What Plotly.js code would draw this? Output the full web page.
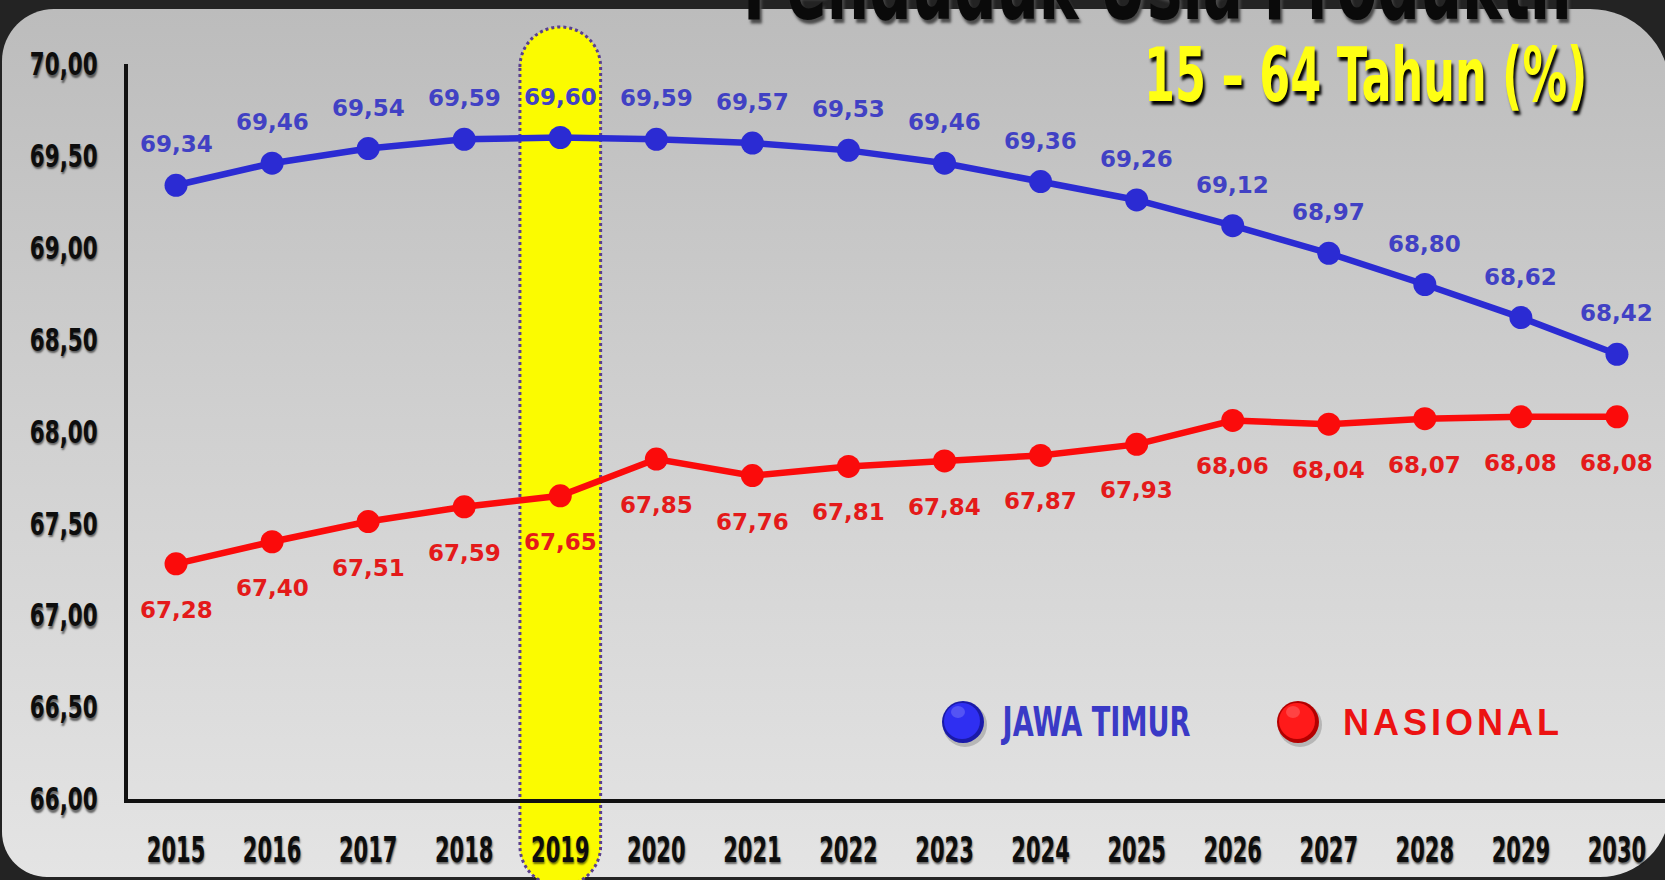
<!DOCTYPE html>
<html>
<head>
<meta charset="utf-8">
<script src="https://cdn.plot.ly/plotly-3.0.1.min.js"></script>
<style>
  html, body { margin:0; padding:0; }
  body { width:1665px; height:880px; overflow:hidden; background:#232323; position:relative; }
  #panel { position:absolute; left:2px; top:9px; width:1668px; height:868px;
           border-radius:52px 80px 70px 45px;
           background:linear-gradient(to bottom, #bcbcbc 0%, #cfcfcf 45%, #e4e4e4 100%); }
  #chart { position:absolute; left:0; top:0; width:1665px; height:880px; }
  /* condensed display faces (no narrow font installed): squeeze bold glyphs horizontally */
  .annotation-text[data-unformatted="Penduduk Usia Produktif"],
  .annotation-text[data-unformatted="15 – 64 Tahun (%)"] { transform-box: fill-box; transform-origin: 50% 50%; transform: scaleX(0.594); }
  .annotation-text[data-unformatted="JAWA TIMUR"] { transform-box: fill-box; transform-origin: 50% 50%; transform: scaleX(0.68); }
  .annotation-text[data-unformatted="NASIONAL"] { letter-spacing:4px; }
</style>
</head>
<body>
<div id="panel"></div>
<div id="chart"></div>
<script>
// ---------------- data ----------------
const years = [2015, 2016, 2017, 2018, 2019, 2020, 2021, 2022, 2023, 2024, 2025, 2026, 2027, 2028, 2029, 2030];
const jawaTimur = [69.34, 69.46, 69.54, 69.59, 69.60, 69.59, 69.57, 69.53, 69.46, 69.36, 69.26, 69.12, 68.97, 68.80, 68.62, 68.42];
const nasional  = [67.28, 67.40, 67.51, 67.59, 67.65, 67.85, 67.76, 67.81, 67.84, 67.87, 67.93, 68.06, 68.04, 68.07, 68.08, 68.08];
const yTickVals = [66, 66.5, 67, 67.5, 68, 68.5, 69, 69.5, 70];
const yTickText = ['66,00', '66,50', '67,00', '67,50', '68,00', '68,50', '69,00', '69,50', '70,00'];
const xTickText = years.map(String);
const seriesNames = ['JAWA TIMUR', 'NASIONAL'];
const titleText = 'Penduduk Usia Produktif';
const subtitleText = '15 – 64 Tahun (%)';
const highlightYear = 2019;

// ---------------- style ----------------
const W = 1665, H = 880;
const M = { l: 128, r: 0, t: 64, b: 81 };
const plotW = W - M.l - M.r, plotH = H - M.t - M.b;
const px2x = p => (p - M.l) / plotW;         // page px -> paper x
const px2y = p => (H - M.b - p) / plotH;     // page px -> paper y
const HEAVY = '"DejaVu Sans", Verdana, sans-serif';
const LABEL = '"DejaVu Sans", Verdana, sans-serif';
const blueLine = '#2b2bd3', redLine = '#fb0b0b';
const blueText = '#4141c4', redText = '#e41a1a';
const fmt = v => v.toFixed(2).replace('.', ',');

const traces = [
  { x: years, y: nasional, name: seriesNames[1], type: 'scatter', mode: 'lines+markers',
    line: { color: redLine, width: 6.5 }, marker: { color: redLine, size: 23 },
    showlegend: false, hoverinfo: 'x+y' },
  { x: years, y: jawaTimur, name: seriesNames[0], type: 'scatter', mode: 'lines+markers',
    line: { color: blueLine, width: 6.5 }, marker: { color: blueLine, size: 23 },
    showlegend: false, hoverinfo: 'x+y' }
];

const annotations = [];
years.forEach((yr, i) => {
  annotations.push({ x: yr, y: jawaTimur[i], xref: 'x', yref: 'y', text: fmt(jawaTimur[i]),
    showarrow: false, yshift: 41, font: { family: LABEL, size: 23, color: blueText, weight: 700 } });
  annotations.push({ x: yr, y: nasional[i], xref: 'x', yref: 'y', text: fmt(nasional[i]),
    showarrow: false, yshift: -46, font: { family: LABEL, size: 23, color: redText, weight: 700 } });
});
// titles
annotations.push({ xref: 'paper', yref: 'paper', x: px2x(1160), y: px2y(-15), xanchor: 'center', yanchor: 'middle',
  text: titleText, showarrow: false,
  font: { family: HEAVY, size: 100, color: '#0a0a0a', weight: 700, shadow: '3px 3px 3px #4a4a4a' } });
annotations.push({ xref: 'paper', yref: 'paper', x: px2x(1365), y: px2y(76), xanchor: 'center', yanchor: 'middle',
  text: subtitleText, showarrow: false,
  font: { family: HEAVY, size: 75, color: '#ffff14', weight: 700, shadow: '3px 3px 3px #000' } });
// legend texts
annotations.push({ xref: 'paper', yref: 'paper', x: px2x(1096), y: px2y(722), xanchor: 'center', yanchor: 'middle',
  text: seriesNames[0], showarrow: false,
  font: { family: HEAVY, size: 40, color: '#3a3ac6', weight: 700 } });
annotations.push({ xref: 'paper', yref: 'paper', x: px2x(1341), y: px2y(722), xanchor: 'left', yanchor: 'middle',
  text: seriesNames[1], showarrow: false,
  font: { family: '"Liberation Sans", Arial, sans-serif', size: 36, color: '#ec1212', weight: 700 } });

// highlight pill around the highlighted year
const hw = 0.42;                      // half width in x units
const xc = highlightYear, x0 = xc - hw, x1 = xc + hw;
const yt = px2y(27), yb = px2y(886), ry = 40 / plotH, k = 0.5523;
const pillPath =
  `M ${x0},${yt - ry} C ${x0},${yt - ry + k * ry} ${xc - k * hw},${yt} ${xc},${yt} ` +
  `C ${xc + k * hw},${yt} ${x1},${yt - ry + k * ry} ${x1},${yt - ry} ` +
  `L ${x1},${yb + ry} C ${x1},${yb + ry - k * ry} ${xc + k * hw},${yb} ${xc},${yb} ` +
  `C ${xc - k * hw},${yb} ${x0},${yb + ry - k * ry} ${x0},${yb + ry} Z`;

const shapes = [
  { type: 'path', xref: 'x', yref: 'paper', path: pillPath, layer: 'below',
    fillcolor: '#fbfb00', line: { color: '#5a3f8e', width: 3, dash: 'dot' } }
];
function sphere(cxPx, cyPx, color, dark) {
  const base = { type: 'circle', xref: 'paper', yref: 'paper', xsizemode: 'pixel', ysizemode: 'pixel',
    xanchor: px2x(cxPx), yanchor: px2y(cyPx), layer: 'above' };
  shapes.push(Object.assign({}, base, { x0: -20, x1: 24, y0: -25, y1: 19, fillcolor: 'rgba(0,0,0,0.18)', line: { width: 0 } }));
  shapes.push(Object.assign({}, base, { x0: -21, x1: 21, y0: -21, y1: 21, fillcolor: dark, line: { width: 0 } }));
  shapes.push(Object.assign({}, base, { x0: -19, x1: 17, y0: -17, y1: 19, fillcolor: color, line: { width: 0 } }));
  shapes.push(Object.assign({}, base, { x0: -12, x1: 2, y0: 4, y1: 16, fillcolor: 'rgba(255,255,255,0.18)', line: { width: 0 } }));
}
sphere(963, 722, '#2f2ff2', '#1a1aa8');
sphere(1298, 722, '#ff1a1a', '#b30000');

const xTickFont = { family: HEAVY, size: 35, color: '#0d0d0d', weight: 700, shadow: '1px 2px 2px rgba(0,0,0,0.55)' };
const yTickFont = { family: HEAVY, size: 32, color: '#0d0d0d', weight: 700, shadow: '1px 2px 2px rgba(0,0,0,0.55)' };

const layout = {
  width: W, height: H, autosize: false,
  margin: M,
  paper_bgcolor: 'rgba(0,0,0,0)', plot_bgcolor: 'rgba(0,0,0,0)',
  showlegend: false,
  xaxis: { range: [2014.5, 2030.5], tickvals: years, ticktext: xTickText, tickangle: 0, ticklabeloverflow: 'allow',
    showgrid: false, zeroline: false,
    showline: true, linecolor: '#111', linewidth: 4, ticks: '', tickfont: xTickFont, ticklabelstandoff: 17,
    fixedrange: true },
  yaxis: { range: [66, 70], tickvals: yTickVals, ticktext: yTickText, ticklabeloverflow: 'allow',
    showgrid: false, zeroline: false,
    showline: true, linecolor: '#111', linewidth: 4, ticks: '', tickfont: yTickFont, ticklabelstandoff: 20,
    fixedrange: true },
  annotations: annotations,
  shapes: shapes
};

// horizontally condense tick labels (narrow display face is not installed)
function squeeze(nodes, s, anchor) {
  nodes.forEach(t => {
    const b = t.getBBox();
    const ox = anchor === 'right' ? b.x + b.width : b.x + b.width / 2;
    const tr = t.getAttribute('transform') || '';
    t.setAttribute('transform', `${tr} translate(${ox},0) scale(${s},1) translate(${-ox},0)`);
  });
}

Plotly.newPlot('chart', traces, layout, { displayModeBar: false, staticPlot: true }).then(gd => {
  squeeze(gd.querySelectorAll('.xtick text'), 0.6, 'center');
  squeeze(gd.querySelectorAll('.ytick text'), 0.67, 'right');
});
</script>
</body>
</html>
